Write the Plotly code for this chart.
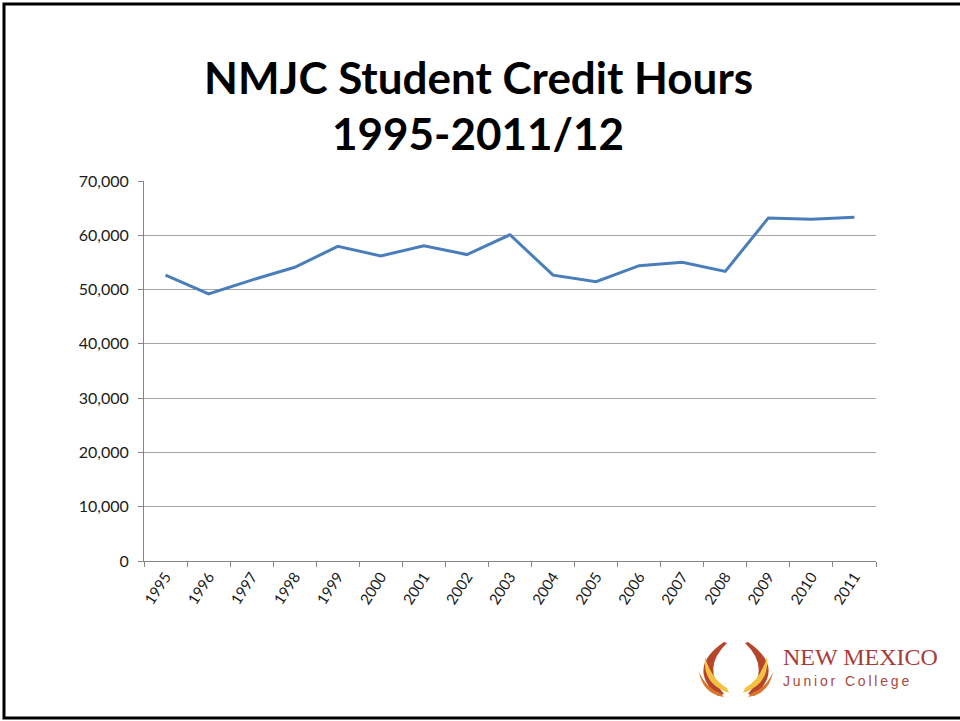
import plotly.graph_objects as go

years = ["1995", "1996", "1997", "1998", "1999", "2000", "2001", "2002", "2003",
         "2004", "2005", "2006", "2007", "2008", "2009", "2010", "2011"]
credit_hours = [52650, 49200, 51750, 54100, 57950, 56200, 58050, 56450, 60100,
                52650, 51450, 54400, 55050, 53350, 63200, 62950, 63300]
y_ticks = [0, 10000, 20000, 30000, 40000, 50000, 60000, 70000]
y_tick_text = ["0", "10,000", "20,000", "30,000", "40,000", "50,000", "60,000", "70,000"]

W, H = 960, 721
L, R, T, B = 144, 876, 181, 561


def px(x):
    return (x - L) / (R - L)


def py(y):
    return (B - y) / (B - T)


fig = go.Figure()
fig.add_trace(go.Scatter(
    x=years, y=credit_hours, mode="lines",
    line=dict(color="#4a7ebb", width=3),
    hoverinfo="x+y",
))

shapes = []
# slide frame
shapes.append(dict(type="rect", xref="paper", yref="paper",
                   x0=px(4), x1=px(975), y0=py(4), y1=py(718),
                   line=dict(color="#000000", width=3), layer="below"))


def path_from(cmds):
    s = ""
    for c in cmds:
        if c[0] in ("M", "L"):
            s += f"{c[0]}{px(c[1]):.5f},{py(c[2]):.5f} "
        elif c[0] == "Q":
            s += f"Q{px(c[1]):.5f},{py(c[2]):.5f} {px(c[3]):.5f},{py(c[4]):.5f} "
        elif c[0] == "Z":
            s += "Z"
    return s


def mirror(cmds, cx):
    out = []
    for c in cmds:
        if c[0] in ("M", "L"):
            out.append((c[0], 2 * cx - c[1], c[2]))
        elif c[0] == "Q":
            out.append(("Q", 2 * cx - c[1], c[2], 2 * cx - c[3], c[4]))
        else:
            out.append(c)
    return out


red_left = [("M", 724, 642), ("Q", 686, 668, 718, 696), ("L", 724, 694),
            ("Q", 701, 668, 727, 643), ("Z",)]
yellow_left = [("M", 705, 657), ("Q", 702, 684, 729, 693), ("L", 727, 688),
               ("Q", 712, 680, 705, 657), ("Z",)]
orange_left = [("M", 699, 672), ("Q", 703, 694, 724, 697), ("L", 720, 693),
               ("Q", 706, 688, 699, 672), ("Z",)]
cx = 736
for cmds, col in [(red_left, "#b5452b"), (orange_left, "#d9772b"), (yellow_left, "#f2c240")]:
    for c in (cmds, mirror(cmds, cx)):
        shapes.append(dict(type="path", xref="paper", yref="paper",
                           path=path_from(c), fillcolor=col,
                           line=dict(width=0), layer="above"))

title_font = dict(family="Lato, Open Sans, sans-serif", size=44, color="#000000")
college = "J\u2009u\u2009n\u2009i\u2009o\u2009r\u2002\u2009C\u2009o\u2009l\u2009l\u2009e\u2009g\u2009e"
logo_text = ("<span style='font-family:Liberation Serif, serif;font-size:24px;'>NEW MEXICO</span><br>"
             f"<span style='font-family:Liberation Sans, sans-serif;font-size:14px;color:#a84a40;'>"
             f"{college}\u2009\u2009</span>")
annotations = [
    dict(text="<b>NMJC Student Credit Hours</b>", xref="paper", yref="paper",
         x=px(478), y=py(77), showarrow=False, xanchor="center", yanchor="middle",
         font=title_font),
    dict(text="<b>1995-2011/12</b>", xref="paper", yref="paper",
         x=px(478), y=py(133), showarrow=False, xanchor="center", yanchor="middle",
         font=title_font),
    dict(text=logo_text, xref="paper", yref="paper",
         x=px(781), y=py(666), showarrow=False, xanchor="left", yanchor="middle",
         align="left", font=dict(family="Liberation Serif, serif", size=16, color="#a83c3a")),
]

fig.update_layout(
    width=W, height=H,
    margin=dict(l=L, r=W - R, t=T, b=H - B),
    paper_bgcolor="#ffffff", plot_bgcolor="#ffffff",
    showlegend=False,
    shapes=shapes,
    annotations=annotations,
    font=dict(family="Lato, Open Sans, sans-serif", size=14, color="#1a1a1a"),
    xaxis=dict(
        type="category", tickangle=-57, tickson="boundaries",
        ticks="outside", ticklen=5, tickcolor="#868686",
        showline=True, linecolor="#868686", linewidth=1,
        showgrid=False, zeroline=False,
        tickfont=dict(size=15, color="#1a1a1a"),
        range=[-0.5, len(years) - 0.5],
    ),
    yaxis=dict(
        range=[0, 70000], tickvals=y_ticks, ticktext=y_tick_text,
        ticks="outside", ticklen=5, tickcolor="#868686",
        showline=True, linecolor="#868686", linewidth=1,
        showgrid=True, gridcolor="#a6a6a6", gridwidth=1,
        zeroline=False, ticklabelstandoff=6,
        tickfont=dict(size=16, color="#1a1a1a"),
    ),
)

fig.write_html("out.html", config={"displayModeBar": False},
               post_script="document.body.style.margin='0px';document.body.style.overflow='hidden';")
